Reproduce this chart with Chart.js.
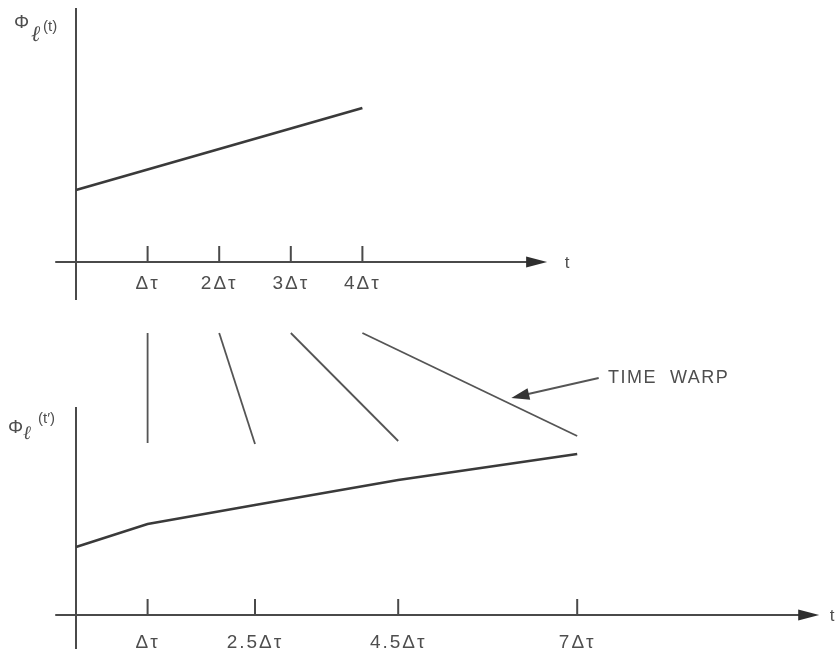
<!DOCTYPE html>
<html><head><meta charset="utf-8">
<script src="https://cdn.jsdelivr.net/npm/chart.js@4/dist/chart.umd.min.js"></script>
<style>html,body{margin:0;padding:0;background:#fff}</style>
</head><body>
<canvas id="c" width="839" height="652"></canvas>
<script>
// Original time axis (units of Δτ) and the linear signal Φℓ(t) at its ends
const tTop = [0, 4];
const phiTop = [3.6, 7.7];
const ticksTop = [1, 2, 3, 4];
const tickLabelsTop = ['Δτ', '2Δτ', '3Δτ', '4Δτ'];

// Warped time axis t' and the warped signal Φℓ(t')
const tWarped = [0, 1, 2.5, 4.5, 7];
const phiWarped = [3.4, 4.55, 5.5, 6.75, 8.05];
const ticksWarped = [1, 2.5, 4.5, 7];
const tickLabelsWarped = ['Δτ', '2.5Δτ', '4.5Δτ', '7Δτ'];

// Time-warp mapping: original instant -> warped instant
const warpFrom = [1, 2, 3, 4];
const warpTo = [1, 2.5, 4.5, 7];
const warpUpper = 14.1;
const warpLower = [8.6, 8.55, 8.7, 8.95];

// Vertical placement of the upper panel's baseline in the shared frame
const TOP_BASE = 17.65;
const INK = '#3a3a3a';
const AXIS = '#4a4a4a';
const TEXT = '#4e4e4e';

const datasets = [];
datasets.push({
  data: tTop.map((t, i) => ({x: t, y: TOP_BASE + phiTop[i]})),
  borderColor: INK, borderWidth: 2.8
});
datasets.push({
  data: tWarped.map((t, i) => ({x: t, y: phiWarped[i]})),
  borderColor: INK, borderWidth: 2.5
});
warpFrom.forEach((t, i) => {
  datasets.push({
    data: [{x: t, y: warpUpper}, {x: warpTo[i], y: warpLower[i]}],
    borderColor: '#555', borderWidth: 1.8
  });
});
datasets.forEach(d => { d.showLine = true; d.pointRadius = 0; d.fill = false; d.tension = 0; });

function arrowHead(ctx, x1, y1, x2, y2, len, half) {
  const a = Math.atan2(y2 - y1, x2 - x1);
  ctx.beginPath();
  ctx.moveTo(x2, y2);
  ctx.lineTo(x2 - len * Math.cos(a) + half * Math.sin(a), y2 - len * Math.sin(a) - half * Math.cos(a));
  ctx.lineTo(x2 - len * Math.cos(a) - half * Math.sin(a), y2 - len * Math.sin(a) + half * Math.cos(a));
  ctx.closePath();
  ctx.fill();
}

// Φ with a script ℓ subscript and its argument, e.g. Φℓ(t)
function drawPhiLabel(ctx, x, y, arg, lDx, lDy, lSize, aDx, aDy) {
  ctx.fillStyle = TEXT;
  ctx.textAlign = 'left';
  ctx.textBaseline = 'alphabetic';
  ctx.font = '19px "Liberation Sans"';
  ctx.fillText('Φ', x, y);
  ctx.font = 'italic ' + lSize + 'px "DejaVu Serif"';
  ctx.fillText('ℓ', x + lDx, y + lDy);
  ctx.font = '15px "Liberation Sans"';
  ctx.fillText(arg, x + aDx, y + aDy);
}

const axesPlugin = {
  id: 'panelAxes',
  beforeDatasetsDraw(chart) {
    const {ctx, scales: {x, y}} = chart;
    ctx.save();
    ctx.strokeStyle = AXIS;
    ctx.fillStyle = '#2e2e2e';
    ctx.lineWidth = 2;
    const panels = [
      {base: TOP_BASE, xEnd: 6.58, yTop: TOP_BASE + 12.7, yBot: TOP_BASE - 1.9, ticks: ticksTop, labels: tickLabelsTop, labelDy: 22, tDx: 20},
      {base: 0, xEnd: 10.38, yTop: 10.4, yBot: -1.7, ticks: ticksWarped, labels: tickLabelsWarped, labelDy: 28, tDx: 13}
    ];
    panels.forEach(p => {
      const y0 = y.getPixelForValue(p.base);
      const xs = x.getPixelForValue(-0.29);
      const xe = x.getPixelForValue(p.xEnd);
      ctx.beginPath();
      ctx.moveTo(xs, y0); ctx.lineTo(xe - 10, y0);
      const x0 = x.getPixelForValue(0);
      ctx.moveTo(x0, y.getPixelForValue(p.yTop)); ctx.lineTo(x0, y.getPixelForValue(p.yBot));
      p.ticks.forEach(t => {
        const tx = x.getPixelForValue(t);
        ctx.moveTo(tx, y0); ctx.lineTo(tx, y0 - 16);
      });
      ctx.stroke();
      arrowHead(ctx, xe - 30, y0, xe, y0, 21, 5.5);
      ctx.save();
      ctx.fillStyle = TEXT;
      ctx.font = '19px "Liberation Sans"';
      ctx.letterSpacing = '2px';
      ctx.textAlign = 'center';
      ctx.textBaseline = 'middle';
      p.ticks.forEach((t, i) => {
        ctx.fillText(p.labels[i], x.getPixelForValue(t), y0 + p.labelDy);
      });
      ctx.letterSpacing = '0px';
      ctx.font = '17px "Liberation Sans"';
      ctx.fillText('t', xe + p.tDx, y0 + 1);
      ctx.restore();
    });
    drawPhiLabel(ctx, 14, 28, '(t)', 17, 13, 22, 29, 3);
    drawPhiLabel(ctx, 8, 433, '(t′)', 15, 6, 19, 30, -10);
    ctx.restore();
  },
  afterDatasetsDraw(chart) {
    const {ctx, scales: {x, y}} = chart;
    ctx.save();
    // pointer from the caption to the outermost warp line
    const tail = {x: x.getPixelForValue(7.3), y: y.getPixelForValue(11.85)};
    const tip = {x: x.getPixelForValue(6.08), y: y.getPixelForValue(10.85)};
    ctx.strokeStyle = '#555';
    ctx.fillStyle = '#333';
    ctx.lineWidth = 1.8;
    ctx.beginPath();
    ctx.moveTo(tail.x, tail.y); ctx.lineTo(tip.x + 8, tip.y - 2);
    ctx.stroke();
    arrowHead(ctx, tail.x, tail.y, tip.x, tip.y, 18, 6);
    ctx.fillStyle = TEXT;
    ctx.font = '18px "Liberation Sans"';
    ctx.letterSpacing = '1.5px';
    ctx.textAlign = 'left';
    ctx.textBaseline = 'middle';
    ctx.fillText('TIME  WARP', x.getPixelForValue(7.43), y.getPixelForValue(11.85));
    ctx.restore();
  }
};

new Chart(document.getElementById('c'), {
  type: 'scatter',
  data: {datasets},
  options: {
    responsive: false,
    animation: false,
    layout: {padding: 0},
    plugins: {legend: {display: false}, tooltip: {enabled: false}},
    scales: {
      x: {type: 'linear', min: -76 / 71.6, max: (839 - 76) / 71.6, display: false},
      y: {type: 'linear', min: -1.85, max: 30.75, display: false}
    }
  },
  plugins: [axesPlugin]
});
</script>
</body></html>
